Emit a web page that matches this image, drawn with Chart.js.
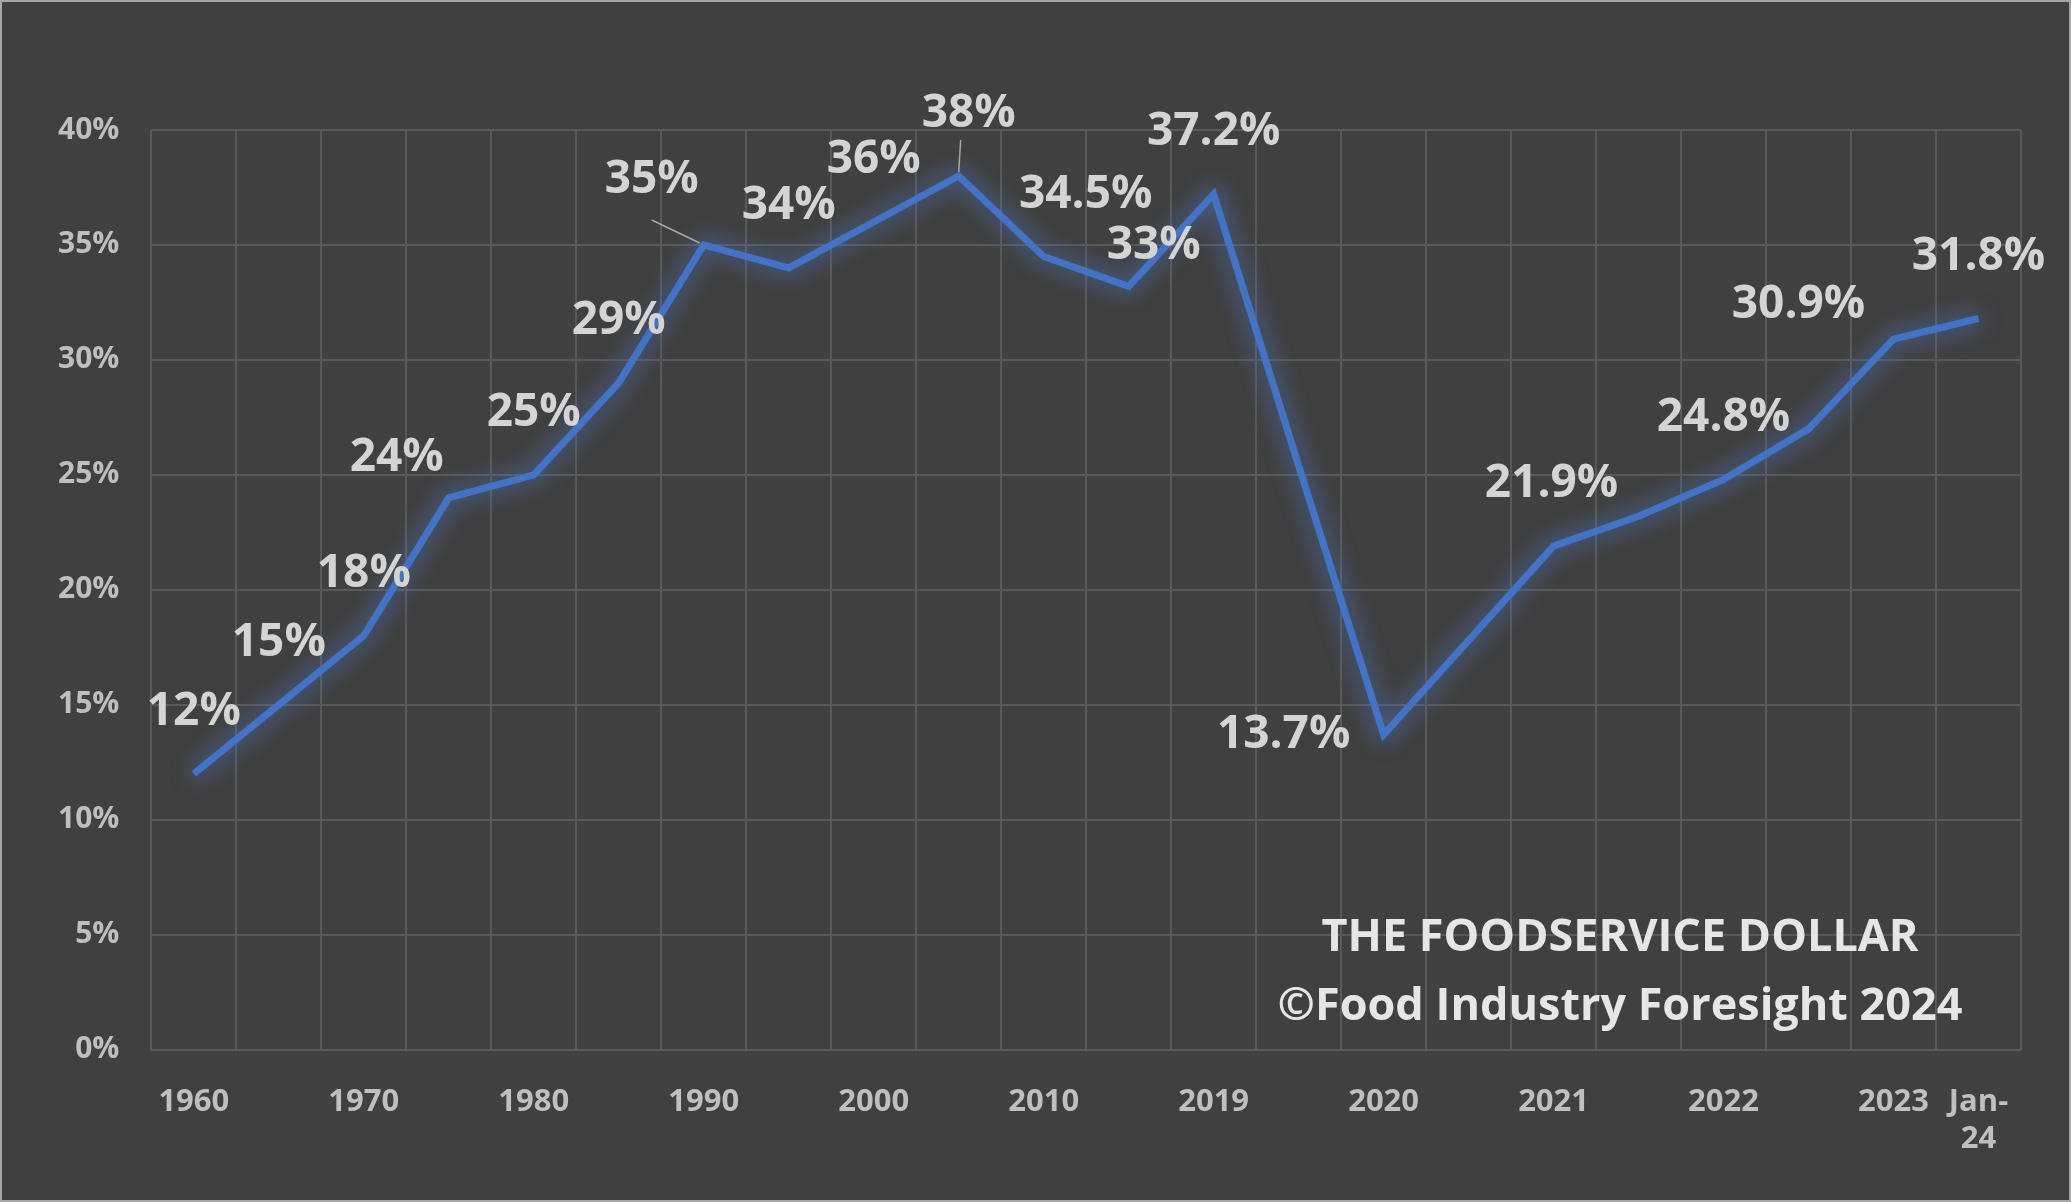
<!DOCTYPE html>
<html>
<head>
<meta charset="utf-8">
<script src="https://cdn.jsdelivr.net/npm/chart.js@4.4.0/dist/chart.umd.min.js"></script>
<style>
  html, body { margin: 0; padding: 0; background: #404040; }
  #wrap { width: 2067px; height: 1198px; border: 2px solid #a6a6a6; position: relative; background: #404040; }
</style>
</head>
<body>
<div id="wrap"><canvas id="chart"></canvas></div>
<script>
const categories = ["1960", "", "1970", "", "1980", "", "1990", "", "2000", "", "2010", "", "2019", "", "2020", "", "2021", "", "2022", "", "2023", ["Jan-", "24"]];
const share = [12, 15, 18, 24, 25, 29, 35, 34, 36, 38, 34.5, 33.2, 37.2, 25.4, 13.7, 17.8, 21.9, 23.2, 24.8, 27, 30.9, 31.8];
const pointLabels = ["12%", "15%", "18%", "24%", "25%", "29%", "35%", "34%", "36%", "38%", "34.5%", "33%", "37.2%", "", "13.7%", "", "21.9%", "", "24.8%", "", "30.9%", "31.8%"];
const yTicks = [0, 5, 10, 15, 20, 25, 30, 35, 40];

// label offsets from the point (px), placed by eye
const labelOffset = [
  [0, -62], [0, -62], [0, -62], [-52, -40], [0, -62], [0, -62], [-52, -65], [0, -62], [0, -62], [10, -62],
  [42, -62], [25, -40], [0, -62], [0, 0], [-100, 0], [0, 0], [-2, -62], [0, 0], [0, -62], [0, 0], [-95, -34], [0, -62]
];

const glow = {
  id: "glow",
  beforeDatasetDraw(chart) {
    const ctx = chart.ctx;
    ctx.save();
    ctx.shadowColor = "rgba(80,130,230,0.9)";
    ctx.shadowBlur = 22;
  },
  afterDatasetDraw(chart) { chart.ctx.restore(); }
};

const labelsPlugin = {
  id: "pointText",
  afterDatasetsDraw(chart) {
    const ctx = chart.ctx;
    const meta = chart.getDatasetMeta(0);
    ctx.save();
    ctx.font = "bold 46px 'Open Sans', sans-serif";
    ctx.fillStyle = "#d4d4d4";
    ctx.textAlign = "center";
    ctx.textBaseline = "middle";
    meta.data.forEach((pt, i) => {
      if (!pointLabels[i]) return;
      const [dx, dy] = labelOffset[i];
      ctx.fillText(pointLabels[i], pt.x + dx, pt.y + dy);
    });
    // leader lines for 35% and 38%
    ctx.strokeStyle = "#a6a6a6";
    ctx.lineWidth = 1.5;
    const p6 = meta.data[6], p9 = meta.data[9];
    ctx.beginPath(); ctx.moveTo(p6.x - 52, p6.y - 25); ctx.lineTo(p6.x - 4, p6.y - 2); ctx.stroke();
    ctx.beginPath(); ctx.moveTo(p9.x + 2, p9.y - 36); ctx.lineTo(p9.x, p9.y - 4); ctx.stroke();
    // watermark
    ctx.font = "bold 45px 'Open Sans', sans-serif";
    ctx.fillStyle = "#e6e6e6";
    ctx.fillText("THE FOODSERVICE DOLLAR", 1618, 936);
    ctx.fillText("\u00A9Food Industry Foresight 2024", 1618, 1005);
    ctx.restore();
  }
};

new Chart(document.getElementById("chart"), {
  type: "line",
  data: {
    labels: categories,
    datasets: [{
      data: share,
      borderColor: "#4472c4",
      borderWidth: 7,
      pointRadius: 0,
      tension: 0
    }]
  },
  options: {
    responsive: true,
    maintainAspectRatio: false,
    animation: false,
    layout: { padding: { left: 24, right: 48, top: 128, bottom: 8 } },
    plugins: { legend: { display: false }, tooltip: { enabled: false } },
    scales: {
      x: {
        offset: true,
        grid: { color: "#595959", lineWidth: 2, offset: true, drawTicks: false },
        border: { display: false },
        ticks: {
          autoSkip: false, maxRotation: 0, color: "#bfbfbf", padding: 34, lineHeight: 1.25,
          font: { family: "'Open Sans', sans-serif", size: 31, weight: "bold" }
        }
      },
      y: {
        min: 0, max: 40,
        afterBuildTicks(axis) { axis.ticks = yTicks.map(v => ({ value: v })); },
        grid: { color: "#595959", lineWidth: 2, drawTicks: false },
        border: { display: false },
        ticks: {
          color: "#bfbfbf", padding: 32,
          font: { family: "'Open Sans', sans-serif", size: 30, weight: "bold" },
          callback: v => v + "%"
        }
      }
    }
  },
  plugins: [glow, labelsPlugin]
});
</script>
</body>
</html>
